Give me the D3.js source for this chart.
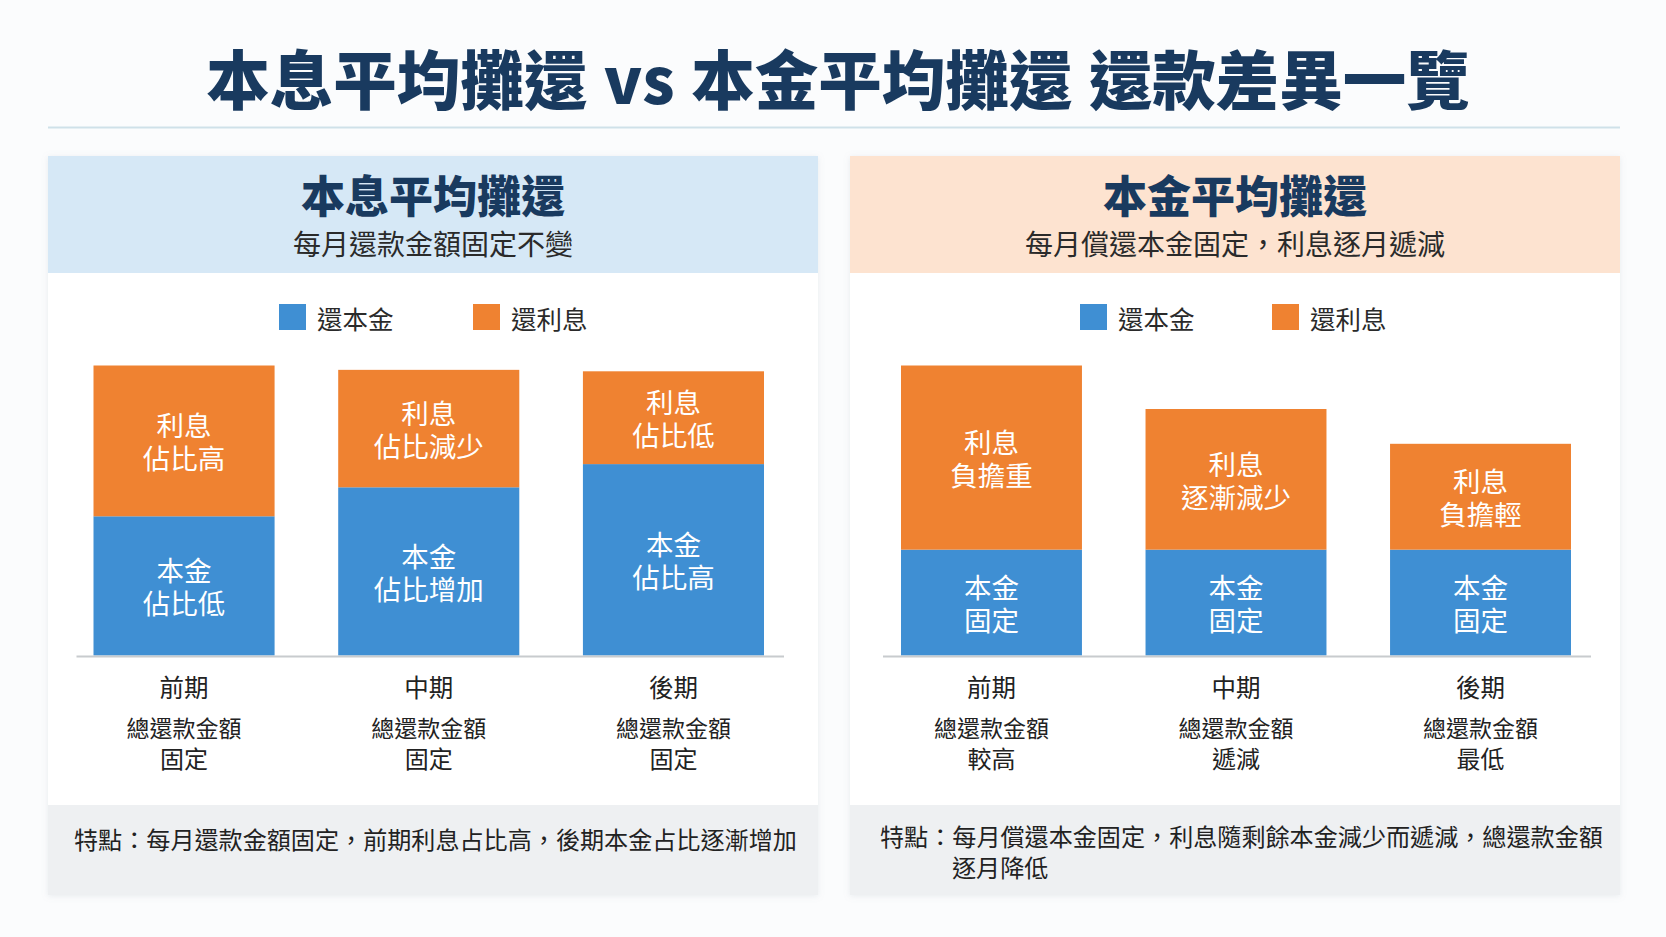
<!DOCTYPE html>
<html>
<head>
<meta charset="utf-8">
<script src="https://cdn.jsdelivr.net/npm/d3@7"></script>
<style>
  html, body { margin: 0; padding: 0; background: #fbfcfd; }
  svg { display: block; font-family: "Noto Sans CJK TC", "Noto Sans", sans-serif; }
</style>
</head>
<body>
<svg id="chart" width="1666" height="937"></svg>
<script>
// data
const periods = ["前期", "中期", "後期"]
const seriesNames = ["還本金", "還利息"]

// 本息平均攤還
const evenPrincipal = [48, 58, 66]
const evenInterest = [52, 40.5, 32]
const evenPrincipalText = [["本金", "佔比低"], ["本金", "佔比增加"], ["本金", "佔比高"]]
const evenInterestText = [["利息", "佔比高"], ["利息", "佔比減少"], ["利息", "佔比低"]]
const evenTotalText = ["固定", "固定", "固定"]

// 本金平均攤還
const flatPrincipal = [36.5, 36.5, 36.5]
const flatInterest = [63.5, 48.5, 36.5]
const flatPrincipalText = [["本金", "固定"], ["本金", "固定"], ["本金", "固定"]]
const flatInterestText = [["利息", "負擔重"], ["利息", "逐漸減少"], ["利息", "負擔輕"]]
const flatTotalText = ["較高", "遞減", "最低"]

const mainTitle = "本息平均攤還 vs 本金平均攤還 還款差異一覽"

const blue = "#3f8fd3"
const orange = "#ef8231"
const navy = "#193a5f"

const svg = d3.select("#chart")

svg.append("defs").append("filter")
    .attr("id", "shadow")
    .attr("x", -0.05).attr("y", -0.05).attr("width", 1.1).attr("height", 1.1)
  .append("feDropShadow")
    .attr("dx", 0).attr("dy", 1).attr("stdDeviation", 3)
    .attr("flood-color", "#8a99a8").attr("flood-opacity", 0.18)

svg.append("text")
    .attr("x", 838).attr("y", 76)
    .attr("text-anchor", "middle").attr("dominant-baseline", "central")
    .attr("font-size", 63.5).attr("font-weight", 900).attr("fill", navy)
    .attr("word-spacing", 2)
    .text(mainTitle)

svg.append("line")
    .attr("x1", 48).attr("x2", 1620).attr("y1", 127.5).attr("y2", 127.5)
    .attr("stroke", "#cfe1e9").attr("stroke-width", 2)

const y = d3.scaleLinear().domain([0, 100]).range([655.5, 365.5])

const panels = [
  {
    x0: 48, title: "本息平均攤還", sub: "每月還款金額固定不變", band: "#d6e8f6",
    principal: evenPrincipal, interest: evenInterest,
    pText: evenPrincipalText, iText: evenInterestText, totals: evenTotalText,
    bars: [93.5, 764], axis: [76.5, 784],
    legend: [279, 473],
    note: ["特點：每月還款金額固定，前期利息占比高，後期本金占比逐漸增加"], noteX: 74, noteY: 838
  },
  {
    x0: 850, title: "本金平均攤還", sub: "每月償還本金固定，利息逐月遞減", band: "#fde3d0",
    principal: flatPrincipal, interest: flatInterest,
    pText: flatPrincipalText, iText: flatInterestText, totals: flatTotalText,
    bars: [901, 1571], axis: [883, 1591],
    legend: [1080, 1272],
    note: ["特點：每月償還本金固定，利息隨剩餘本金減少而遞減，總還款金額", "逐月降低"], noteX: 880, noteY: 835
  }
]

panels.forEach(p => {
  const g = svg.append("g")
  const w = 770
  const cx = p.x0 + w / 2

  g.append("rect")
      .attr("x", p.x0).attr("y", 156).attr("width", w).attr("height", 739)
      .attr("fill", "#ffffff").attr("filter", "url(#shadow)")
  g.append("rect")
      .attr("x", p.x0).attr("y", 156).attr("width", w).attr("height", 117)
      .attr("fill", p.band)

  g.append("text")
      .attr("x", cx).attr("y", 194)
      .attr("text-anchor", "middle").attr("dominant-baseline", "central")
      .attr("font-size", 44).attr("font-weight", 900).attr("fill", navy)
      .text(p.title)
  g.append("text")
      .attr("x", cx).attr("y", 243)
      .attr("text-anchor", "middle").attr("dominant-baseline", "central")
      .attr("font-size", 28).attr("fill", "#2a2a2a")
      .text(p.sub)

  // legend
  const lg = g.selectAll("g.legend").data(seriesNames).enter().append("g")
      .attr("transform", (d, i) => `translate(${p.legend[i]},317)`)
  lg.append("rect")
      .attr("x", 0).attr("y", -13).attr("width", 27).attr("height", 26)
      .attr("fill", (d, i) => i === 0 ? blue : orange)
  lg.append("text")
      .attr("x", 38).attr("y", 0).attr("dominant-baseline", "central")
      .attr("font-size", 25.5).attr("fill", "#2a2a2a")
      .text(d => d)

  const x = d3.scaleBand().domain(periods).range(p.bars).paddingInner(0.26)

  const rows = periods.map((d, i) => ({
    period: d, principal: p.principal[i], interest: p.interest[i],
    pText: p.pText[i], iText: p.iText[i], total: p.totals[i]
  }))

  const bar = g.selectAll("g.bar").data(rows).enter().append("g")

  bar.append("rect")
      .attr("x", d => x(d.period)).attr("width", x.bandwidth())
      .attr("y", d => y(d.principal)).attr("height", d => y(0) - y(d.principal))
      .attr("fill", blue)
  bar.append("rect")
      .attr("x", d => x(d.period)).attr("width", x.bandwidth())
      .attr("y", d => y(d.principal + d.interest)).attr("height", d => y(d.principal) - y(d.principal + d.interest))
      .attr("fill", orange)

  // segment labels, one text per line
  const label = (lines, mid) => {
    bar.each(function (d) {
      const ls = lines(d)
      d3.select(this).selectAll(null).data(ls).enter().append("text")
          .attr("x", x(d.period) + x.bandwidth() / 2)
          .attr("y", (t, k) => mid(d) + (k - (ls.length - 1) / 2) * 33)
          .attr("text-anchor", "middle").attr("dominant-baseline", "central")
          .attr("font-size", 27.5).attr("fill", "#ffffff")
          .text(t => t)
    })
  }
  label(d => d.iText, d => (y(d.principal) + y(d.principal + d.interest)) / 2)
  label(d => d.pText, d => (y(0) + y(d.principal)) / 2)

  g.append("line")
      .attr("x1", p.axis[0]).attr("x2", p.axis[1]).attr("y1", 656.5).attr("y2", 656.5)
      .attr("stroke", "#c8cbce").attr("stroke-width", 2)

  const cat = g.selectAll("g.cat").data(rows).enter().append("g")
      .attr("transform", d => `translate(${x(d.period) + x.bandwidth() / 2},0)`)
      .attr("text-anchor", "middle").attr("fill", "#222")
  cat.append("text").attr("y", 686).attr("dominant-baseline", "central")
      .attr("font-size", 24.5).text(d => d.period)
  cat.append("text").attr("y", 727).attr("dominant-baseline", "central")
      .attr("font-size", 23).text("總還款金額")
  cat.append("text").attr("y", 757).attr("dominant-baseline", "central")
      .attr("font-size", 24).text(d => d.total)

  // footer note
  g.append("rect")
      .attr("x", p.x0).attr("y", 805).attr("width", w).attr("height", 90)
      .attr("fill", "#eef0f2")
  g.selectAll("text.note").data(p.note).enter().append("text")
      .attr("x", (d, i) => p.noteX + (i ? 72 : 0))
      .attr("y", (d, i) => p.noteY + i * 31)
      .attr("dominant-baseline", "central")
      .attr("font-size", 24.1).attr("fill", "#222")
      .text(d => d)
})
</script>
</body>
</html>
